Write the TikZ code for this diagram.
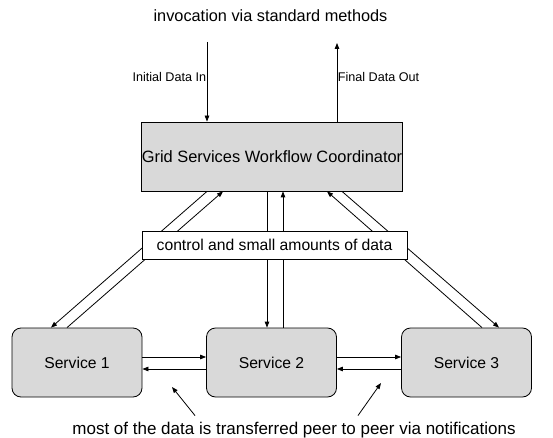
\documentclass[tikz,border=0pt]{standalone}
\usepackage{fontspec}
\setmainfont{Liberation Sans}
\usetikzlibrary{arrows.meta}

\tikzset{
  flow/.style={-{Triangle[length=6pt,width=4.5pt]}, line width=0.8pt},
  coordbox/.style={draw, line width=0.8pt, fill=black!15, minimum width=260pt, minimum height=69pt, inner sep=0pt, font=\fontsize{16.4}{18}\selectfont},
  servicebox/.style={draw, line width=0.8pt, fill=black!15, rounded corners=9pt, minimum width=130pt, minimum height=69pt, font=\fontsize{15.7}{18}\selectfont},
  labelbox/.style={draw, line width=0.8pt, fill=white, minimum width=265pt, minimum height=28pt, inner sep=0pt, font=\fontsize{15.7}{18}\selectfont},
  small/.style={font=\fontsize{12.6}{14}\selectfont, inner sep=0.5pt}
}

\begin{document}
\begin{tikzpicture}[x=1pt, y=-1pt]
  \useasboundingbox (0,0) rectangle (553,438);

  % Coordinator and the title above it
  \node[font=\fontsize{16.3}{18}\selectfont] (title) at (270.5,16) {invocation via standard methods};
  \node[coordbox] (coord) at (272,156.5) {Grid Services Workflow Coordinator};
  \coordinate (inTop) at (207,42);
  \coordinate (outTop) at (337,43);
  \draw[flow] (inTop) -- node[small, left, pos=0.44] {Initial Data In} ([xshift=-65pt]coord.north);
  \draw[flow] ([xshift=65pt]coord.north) -- node[small, right, pos=0.57] {Final Data Out} (outTop);

  % Services
  \node[servicebox] (s1) at (77,362.5) {Service 1};
  \node[servicebox] (s2) at (271.5,362.5) {Service 2};
  \node[servicebox] (s3) at (466.5,362.5) {Service 3};

  % Coordinator <-> services
  \draw[flow] ([xshift=-65pt]coord.south) -- ([xshift=-26pt]s1.north);
  \draw[flow] ([xshift=-10pt]s1.north) -- ([xshift=-49pt]coord.south);
  \draw[flow] ([xshift=-5pt]coord.south) -- ([xshift=-4.5pt]s2.north);
  \draw[flow] ([xshift=11.5pt]s2.north) -- ([xshift=11pt]coord.south);
  \draw[flow] ([xshift=15.5pt]s3.north) -- ([xshift=55pt]coord.south);
  \draw[flow] ([xshift=70pt]coord.south) -- ([xshift=32.5pt]s3.north);

  \node[labelbox] (ctrl) at (274.5,245) {control and small amounts of data};

  % Peer to peer
  \draw[flow] ([yshift=5.5pt]s1.east) -- ([yshift=5.5pt]s2.west);
  \draw[flow] ([yshift=-6.5pt]s2.west) -- ([yshift=-6.5pt]s1.east);
  \draw[flow] ([yshift=5.5pt]s2.east) -- ([yshift=5.5pt]s3.west);
  \draw[flow] ([yshift=-6.5pt]s3.west) -- ([yshift=-6.5pt]s2.east);

  \node[font=\fontsize{17}{19}\selectfont] (note) at (294,430) {most of the data is transferred peer to peer via notifications};
  \coordinate (gapL) at (172,387);
  \coordinate (gapR) at (381,383);
  \draw[flow] ([xshift=-99pt,yshift=3pt]note.north) -- (gapL);
  \draw[flow] ([xshift=64pt,yshift=3pt]note.north) -- (gapR);
\end{tikzpicture}
\end{document}
